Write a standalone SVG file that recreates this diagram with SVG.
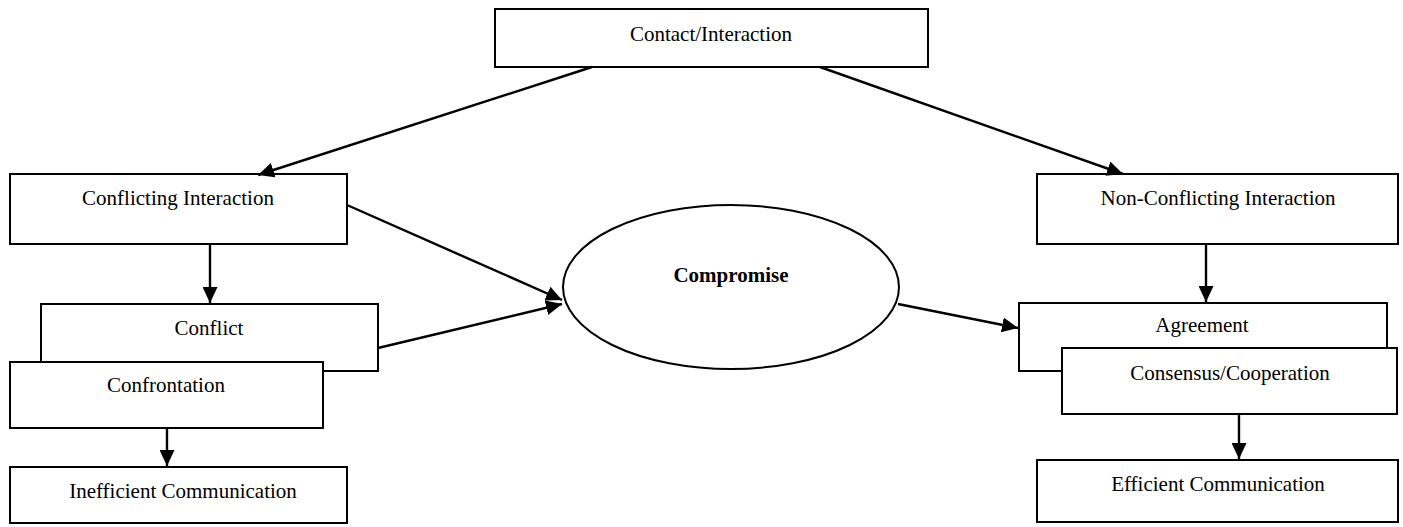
<svg xmlns="http://www.w3.org/2000/svg" width="1403" height="527" viewBox="0 0 1403 527">
<style>
.box{fill:#fff;stroke:#000;stroke-width:2}
.lbl{font-family:"Liberation Serif","Times New Roman",serif;font-size:21px;fill:#000;text-anchor:middle}
.bold{font-weight:bold}
.conn{stroke:#000;stroke-width:2.4;fill:none;marker-end:url(#ah)}
</style>
<defs>
<marker id="ah" markerUnits="userSpaceOnUse" markerWidth="16" markerHeight="15" refX="16" refY="7.5" orient="auto">
<path d="M0,0 L16,7.5 L0,15 z" fill="#000"/>
</marker>
</defs>
<rect width="1403" height="527" fill="#fff"/>
<g id="contact">
<rect class="box" x="495" y="9" width="433" height="58"/>
<text class="lbl" x="711" y="41">Contact/Interaction</text>
</g>
<g id="conflicting">
<rect class="box" x="10" y="174" width="337" height="70"/>
<text class="lbl" x="178" y="205">Conflicting Interaction</text>
</g>
<g id="conflict">
<rect class="box" x="41" y="304" width="337" height="67"/>
<text class="lbl" x="209" y="335">Conflict</text>
</g>
<g id="confrontation">
<rect class="box" x="10" y="362" width="313" height="66"/>
<text class="lbl" x="166" y="392">Confrontation</text>
</g>
<g id="inefficient">
<rect class="box" x="10" y="467" width="337" height="56"/>
<text class="lbl" x="183" y="498">Inefficient Communication</text>
</g>
<g id="compromise">
<ellipse cx="731" cy="287" rx="168" ry="82" fill="#fff" stroke="#000" stroke-width="2"/>
<text class="lbl bold" x="731" y="282">Compromise</text>
</g>
<g id="nonconflicting">
<rect class="box" x="1037" y="174" width="361" height="70"/>
<text class="lbl" x="1218" y="205">Non-Conflicting Interaction</text>
</g>
<g id="agreement">
<rect class="box" x="1019" y="303" width="368" height="68"/>
<text class="lbl" x="1202" y="332">Agreement</text>
</g>
<g id="consensus">
<rect class="box" x="1062" y="348" width="335" height="66"/>
<text class="lbl" x="1230" y="380">Consensus/Cooperation</text>
</g>
<g id="efficient">
<rect class="box" x="1037" y="460" width="361" height="62"/>
<text class="lbl" x="1218" y="491">Efficient Communication</text>
</g>
<g id="connectors">
<line class="conn" x1="592" y1="67" x2="258" y2="175"/>
<line class="conn" x1="820" y1="67" x2="1123" y2="174"/>
<line class="conn" x1="210" y1="244" x2="210" y2="303"/>
<line class="conn" x1="347" y1="205" x2="562" y2="300"/>
<line class="conn" x1="378" y1="348" x2="562" y2="304"/>
<line class="conn" x1="167" y1="428" x2="167" y2="466"/>
<line class="conn" x1="898" y1="304" x2="1018" y2="328"/>
<line class="conn" x1="1206" y1="244" x2="1206" y2="302"/>
<line class="conn" x1="1239" y1="414" x2="1239" y2="459"/>
</g>
</svg>
